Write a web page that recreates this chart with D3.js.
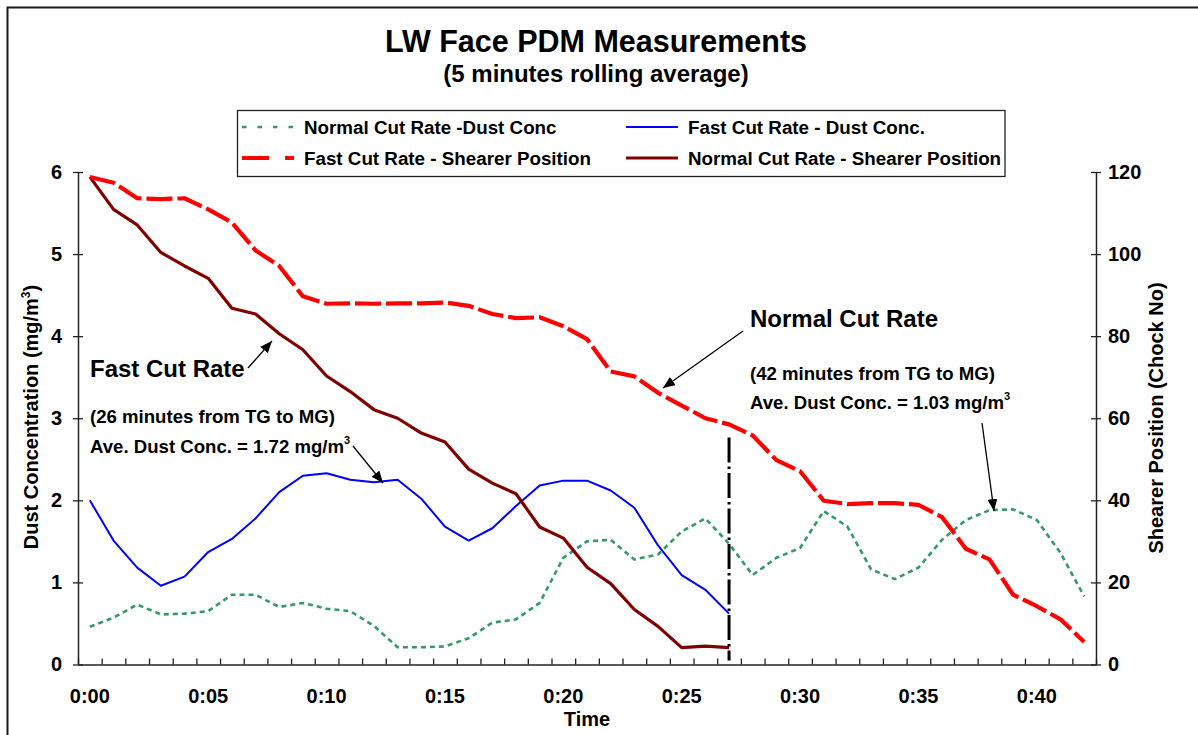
<!DOCTYPE html>
<html>
<head>
<meta charset="utf-8">
<script src="https://cdn.jsdelivr.net/npm/d3@7"></script>
<style>
  html, body { margin: 0; padding: 0; background: #ffffff; }
  svg { display: block; }
</style>
</head>
<body>
<script>
// ---------------- DATA ----------------
const minutes = [0,1,2,3,4,5,6,7,8,9,10,11,12,13,14,15,16,17,18,19,20,
                 21,22,23,24,25,26,27,28,29,30,31,32,33,34,35,36,37,38,39,40,41,42];
const tickMinutes = [0,5,10,15,20,25,30,35,40];
const timeLabels = ["0:00","0:05","0:10","0:15","0:20","0:25","0:30","0:35","0:40"];
const dustTicks = [0,1,2,3,4,5,6];
const positionTicks = [0,20,40,60,80,100,120];

// Normal Cut Rate - Dust Conc (mg/m3), left axis, minutes 0..42
const normalCutDust = [0.46,0.57,0.73,0.61,0.62,0.65,0.85,0.85,0.70,0.75,0.68,
                       0.65,0.47,0.21,0.21,0.22,0.32,0.51,0.55,0.75,1.30,
                       1.50,1.52,1.28,1.34,1.62,1.78,1.47,1.09,1.30,1.42,
                       1.87,1.68,1.16,1.04,1.18,1.52,1.76,1.88,1.89,1.76,1.36,0.83];
// Fast Cut Rate - Dust Conc (mg/m3), left axis, minutes 0..27
const fastCutDust = [2.00,1.51,1.18,0.96,1.07,1.37,1.53,1.78,2.10,2.30,2.33,
                     2.25,2.22,2.25,2.02,1.68,1.51,1.66,1.93,2.18,2.24,
                     2.24,2.12,1.91,1.45,1.09,0.91,0.62];
// Fast Cut Rate - Shearer Position (chock no), right axis, minutes 0..42
const fastCutPosition = [118.8,117.4,113.6,113.4,113.6,110.9,107.7,100.9,97.1,89.7,87.9,
                         88.0,87.9,88.0,88.0,88.2,87.4,85.4,84.4,84.6,82.4,
                         79.3,71.4,70.2,66.2,63.1,60.0,58.5,55.8,49.8,47.1,
                         39.9,39.1,39.3,39.3,38.9,35.9,28.2,25.6,17.0,14.2,11.0,5.5];
// Normal Cut Rate - Shearer Position (chock no), right axis, minutes 0..27
const normalCutPosition = [118.8,110.9,107.1,100.4,97.1,94.1,86.8,85.4,80.6,76.7,70.3,
                           66.5,62.1,60.0,56.4,54.2,47.6,44.2,41.6,33.5,30.8,
                           23.7,19.7,13.4,9.3,4.1,4.5,4.1];

const seriesNames = ["Normal Cut Rate -Dust Conc", "Fast Cut Rate - Dust Conc.",
                     "Fast Cut Rate - Shearer Position", "Normal Cut Rate - Shearer Position"];
const markerMinute = 27;
const markerTopPosition = 55.3;

// ---------------- LAYOUT ----------------
const W = 1198, H = 735;
const FONT = "'Liberation Sans', Arial, Helvetica, sans-serif";
const plot = { left: 78, right: 1096, top: 172, bottom: 664.5 };

const svg = d3.select("body").append("svg")
  .attr("width", W).attr("height", H)
  .attr("font-family", FONT).attr("font-weight", "bold");

// outer chart border
svg.append("rect").attr("x", 7.5).attr("y", 7.5).attr("width", 1400).attr("height", 1000)
  .attr("fill", "none").attr("stroke", "#1a1a1a").attr("stroke-width", 2);

// scales
const xBand = d3.scaleBand().domain(minutes).range([plot.left, plot.right]).padding(0);
const xc = m => xBand(m) + xBand.bandwidth() / 2;
const xEdge = d3.scaleLinear().domain([0, minutes.length]).range([plot.left, plot.right]);
const yL = d3.scaleLinear().domain([0, 6]).range([plot.bottom, plot.top]);
const yR = d3.scaleLinear().domain([0, 120]).range([plot.bottom, plot.top]);

// ---------------- TITLE ----------------
svg.append("text").attr("x", 596).attr("y", 52).attr("text-anchor", "middle")
  .attr("font-size", 30.5).attr("fill", "#000").text("LW Face PDM Measurements");
svg.append("text").attr("x", 596).attr("y", 82).attr("text-anchor", "middle")
  .attr("font-size", 24).attr("fill", "#000").text("(5 minutes rolling average)");

// ---------------- AXES ----------------
const axisColor = "#222";
function styleAxis(g, size) {
  g.attr("font-family", FONT).attr("font-weight", "bold").attr("font-size", size);
  g.selectAll("text").attr("fill", "#000");
  g.selectAll("line").attr("stroke", axisColor).attr("stroke-width", 1.3);
  g.select(".domain").attr("stroke", axisColor).attr("stroke-width", 1.5);
}

// x ticks at category boundaries (inside)
const gxTicks = svg.append("g").attr("transform", `translate(0,${plot.bottom})`)
  .call(d3.axisBottom(xEdge).tickValues(d3.range(0, minutes.length + 1))
    .tickSize(-6).tickSizeOuter(0).tickFormat(""));
styleAxis(gxTicks, 20);

// x labels
const gxLab = svg.append("g").attr("transform", `translate(0,${plot.bottom})`)
  .call(d3.axisBottom(xBand).tickValues(tickMinutes).tickSize(0).tickPadding(24)
    .tickFormat((d, i) => timeLabels[i]));
gxLab.select(".domain").remove();
styleAxis(gxLab, 20);

// left axis
const gyL = svg.append("g").attr("transform", `translate(${plot.left},0)`)
  .call(d3.axisLeft(yL).tickValues(dustTicks).tickSize(5).tickSizeOuter(0).tickPadding(11)
    .tickFormat(d3.format("d")));
gyL.selectAll(".tick line").attr("x1", 5);
styleAxis(gyL, 20);

// right axis
const gyR = svg.append("g").attr("transform", `translate(${plot.right},0)`)
  .call(d3.axisRight(yR).tickValues(positionTicks).tickSize(5).tickSizeOuter(0).tickPadding(7)
    .tickFormat(d3.format("d")));
gyR.selectAll(".tick line").attr("x1", -5);
styleAxis(gyR, 20);

// axis titles
const lt = svg.append("text").attr("transform", `translate(38,417) rotate(-90)`)
  .attr("text-anchor", "middle").attr("font-size", 20).attr("fill", "#000");
lt.append("tspan").text("Dust Concentration (mg/m");
lt.append("tspan").attr("font-size", 12).attr("dy", -8).text("3");
lt.append("tspan").attr("dy", 8).text(")");

svg.append("text").attr("transform", `translate(1163,418) rotate(-90)`)
  .attr("text-anchor", "middle").attr("font-size", 20).attr("fill", "#000")
  .text("Shearer Position (Chock No)");

svg.append("text").attr("x", (plot.left + plot.right) / 2).attr("y", 726)
  .attr("text-anchor", "middle").attr("font-size", 20).attr("fill", "#000").text("Time");

// ---------------- SERIES ----------------
const lineL = d3.line().x((d, i) => xc(minutes[i])).y(d => yL(d));
const lineR = d3.line().x((d, i) => xc(minutes[i])).y(d => yR(d));

const styles = [
  { color: "#339966", width: 2.6, dash: "5,4", legendDash: "4.5,11" },
  { color: "#0000ff", width: 2, dash: null, legendDash: null },
  { color: "#ff0000", width: 4.2, dash: "26,5", legendDash: "27,16" },
  { color: "#800000", width: 3.2, dash: null, legendDash: null }
];

function drawLine(data, gen, st) {
  svg.append("path").datum(data).attr("d", gen).attr("fill", "none")
    .attr("stroke", st.color).attr("stroke-width", st.width)
    .attr("stroke-linejoin", "round")
    .attr("stroke-dasharray", st.dash);
}
drawLine(normalCutDust, lineL, styles[0]);
drawLine(fastCutDust, lineL, styles[1]);
drawLine(normalCutPosition, lineR, styles[3]);
drawLine(fastCutPosition, lineR, styles[2]);

// end-of-fast-cut marker line
svg.append("line")
  .attr("x1", xc(markerMinute)).attr("x2", xc(markerMinute))
  .attr("y1", yR(markerTopPosition)).attr("y2", plot.bottom - 4)
  .attr("stroke", "#000").attr("stroke-width", 3)
  .attr("stroke-dasharray", "25,4,2.5,4");

// ---------------- LEGEND ----------------
const lg = svg.append("g");
lg.append("rect").attr("x", 237.5).attr("y", 110.5).attr("width", 767.5).attr("height", 66)
  .attr("fill", "#fff").attr("stroke", "#222").attr("stroke-width", 1.3);
const legendItems = [
  { name: seriesNames[0], st: styles[0], x: 242, y: 127 },
  { name: seriesNames[1], st: styles[1], x: 626, y: 127 },
  { name: seriesNames[2], st: styles[2], x: 242, y: 158 },
  { name: seriesNames[3], st: styles[3], x: 626, y: 158 }
];
legendItems.forEach(it => {
  lg.append("line").attr("x1", it.x).attr("x2", it.x + 52).attr("y1", it.y).attr("y2", it.y)
    .attr("stroke", it.st.color).attr("stroke-width", it.st.width)
    .attr("stroke-dasharray", it.st.legendDash);
  lg.append("text").attr("x", it.x + 62).attr("y", it.y + 6.5)
    .attr("font-size", 18.8).attr("fill", "#000").text(it.name);
});

// ---------------- ANNOTATIONS ----------------
svg.append("defs").append("marker").attr("id", "ah")
  .attr("viewBox", "0 0 12 10").attr("refX", 12).attr("refY", 5)
  .attr("markerWidth", 12).attr("markerHeight", 10).attr("markerUnits", "userSpaceOnUse")
  .attr("orient", "auto")
  .append("path").attr("d", "M0,0L12,5L0,10Z").attr("fill", "#000");

function arrow(x1, y1, x2, y2) {
  svg.append("line").attr("x1", x1).attr("y1", y1).attr("x2", x2).attr("y2", y2)
    .attr("stroke", "#000").attr("stroke-width", 1.3).attr("marker-end", "url(#ah)");
}
function label(x, y, size, txt, sup) {
  const t = svg.append("text").attr("x", x).attr("y", y).attr("font-size", size).attr("fill", "#000");
  t.append("tspan").text(txt);
  if (sup) t.append("tspan").attr("font-size", 11).attr("dy", -9).text(sup);
}

label(90, 377, 24, "Fast Cut Rate");
label(90, 423, 18.6, "(26 minutes from TG to MG)");
label(90, 453, 18.6, "Ave. Dust Conc. = 1.72 mg/m", "3");
arrow(248, 368, 272, 341);
arrow(353, 446, 383, 483);

label(750, 327, 24, "Normal Cut Rate");
label(750, 380, 18.6, "(42 minutes from TG to MG)");
label(750, 409, 18.6, "Ave. Dust Conc. = 1.03 mg/m", "3");
arrow(743, 331, 663, 388);
arrow(982, 423, 994, 511);
</script>
</body>
</html>
